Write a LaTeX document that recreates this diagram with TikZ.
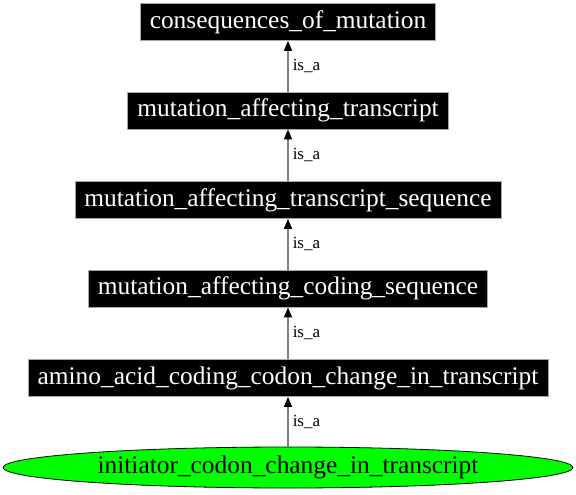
\documentclass[tikz,border=0pt]{standalone}
\usepackage{fontspec}
\setmainfont{Liberation Serif}
\usetikzlibrary{arrows.meta,shapes.geometric}
\tikzset{
  term/.style={fill=black, draw=gray!70, line width=0.8pt, text=white, inner xsep=9.5pt, inner ysep=0pt,
    minimum height=37pt, font=\fontsize{25.4}{25.4}\selectfont},
  leaf/.style={ellipse, fill=green, draw=black, line width=0.8pt, minimum width=570pt, minimum height=41pt,
    inner sep=0pt, font=\fontsize{25.4}{25.4}\selectfont},
  isa/.style={draw=gray, line width=1.5pt, -{Triangle[black, length=10pt, width=8pt]}},
  lbl/.style={font=\fontsize{17}{17}\selectfont, anchor=west, inner sep=0pt}
}
\begin{document}
\begin{tikzpicture}[x=1pt,y=1pt]
\useasboundingbox (0,0) rectangle (576,-495);
\node[term] (n1) at (288,-22) {consequences\_of\_mutation};
\node[term] (n2) at (288,-110.5) {mutation\_affecting\_transcript};
\node[term] (n3) at (288,-200) {mutation\_affecting\_transcript\_sequence};
\node[term] (n4) at (288,-288.5) {mutation\_affecting\_coding\_sequence};
\node[term] (n5) at (288,-378) {amino\_acid\_coding\_codon\_change\_in\_transcript};
\node[leaf] (n6) at (288,-467.5) {initiator\_codon\_change\_in\_transcript};
\draw[isa] (n2.north) -- (n1.south) node[lbl, pos=0.5, xshift=4pt] (l1) {is\_a};
\draw[isa] (n3.north) -- (n2.south) node[lbl, pos=0.5, xshift=4pt] (l2) {is\_a};
\draw[isa] (n4.north) -- (n3.south) node[lbl, pos=0.5, xshift=4pt] (l3) {is\_a};
\draw[isa] (n5.north) -- (n4.south) node[lbl, pos=0.5, xshift=4pt] (l4) {is\_a};
\draw[isa] (n6.north) -- (n5.south) node[lbl, pos=0.5, xshift=4pt] (l5) {is\_a};
\end{tikzpicture}
\end{document}
